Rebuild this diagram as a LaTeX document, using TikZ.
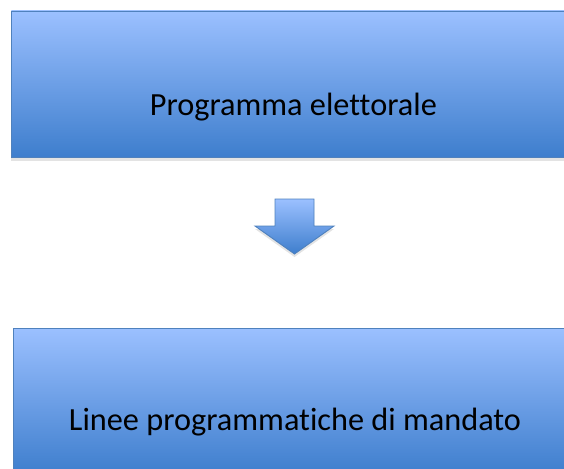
\documentclass[tikz,border=0pt]{standalone}
\usepackage{fontspec}
\setmainfont{Carlito}[Ligatures={NoCommon}]
\usetikzlibrary{shadows}

\definecolor{boxtop}{RGB}{155,192,255}
\definecolor{boxmid}{RGB}{122,167,236}
\definecolor{boxbot}{RGB}{62,126,205}
\definecolor{boxline}{RGB}{79,129,189}

\tikzset{
  bluefill/.style={draw=boxline, line width=0.9pt, top color=boxtop, middle color=boxmid, bottom color=boxbot},
  bluebox/.style={bluefill, minimum width=564pt, minimum height=146pt, inner sep=0pt,
    drop shadow={opacity=0.22, shadow xshift=0pt, shadow yshift=-4pt}},
  boxtext/.style={font=\fontsize{32.3}{38}\selectfont, anchor=base, inner sep=0pt}
}

\begin{document}
\begin{tikzpicture}[x=1pt,y=1pt,yscale=-1]
\useasboundingbox (0,0) rectangle (564,468);
% boxes
\node[bluebox] (prog) at (293.3,84) {};
\node[boxtext] (progtxt) at ([yshift=-42pt]prog.south) {Programma elettorale};
\node[bluebox] (linee) at (295,401) {};
\node[boxtext] (lineetxt) at ([yshift=-44pt]linee.south) {Linee programmatiche di mandato};
% block arrow
\path[bluefill, drop shadow={opacity=0.22, shadow xshift=0pt, shadow yshift=-3pt}]
  (275,199) -- (314,199) -- (314,226) -- (334,226) -- (294.5,254) -- (255,226) -- (275,226) -- cycle;
\end{tikzpicture}
\end{document}
